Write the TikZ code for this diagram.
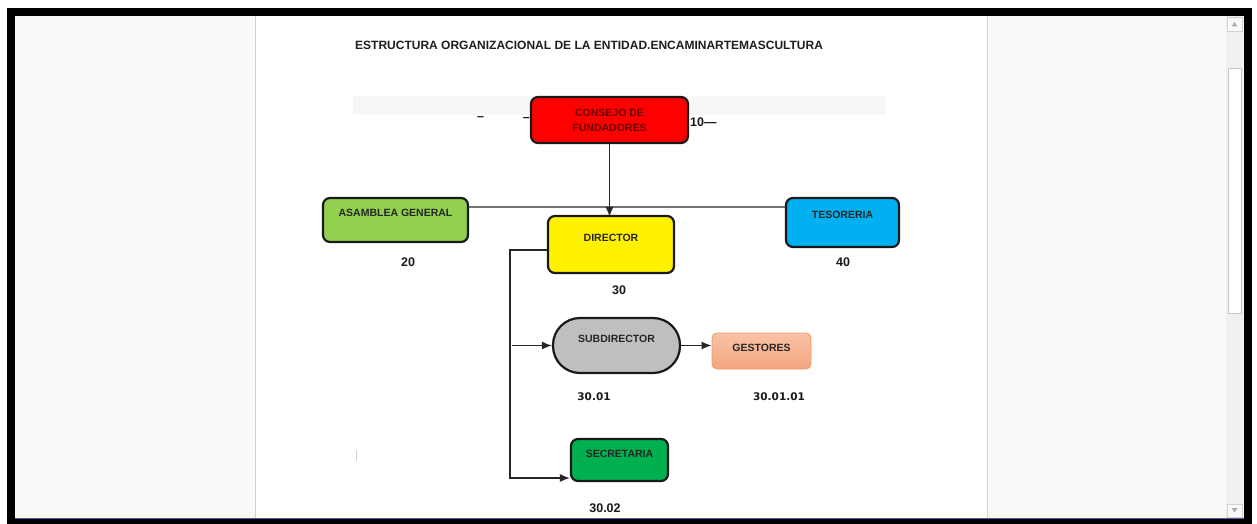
\documentclass[tikz,border=0pt]{standalone}
\usepackage{fontspec}
\setmainfont{Liberation Sans}
\newfontfamily\numfont{DejaVu Sans}
\usepackage{xcolor}
\usetikzlibrary{arrows.meta,calc,positioning}
\definecolor{consejotxt}{HTML}{6A0000}
\definecolor{asamgreen}{HTML}{92D050}
\definecolor{tesoblue}{HTML}{00B0F0}
\definecolor{subgray}{HTML}{BFBFBF}
\definecolor{secgreen}{HTML}{00B050}
\definecolor{gestop}{HTML}{F8C2A6}
\definecolor{gesbot}{HTML}{F3A67E}
\definecolor{gesline}{HTML}{EE9A6A}
\newcommand{\lbl}{\bfseries\fontsize{10.5}{12}\selectfont}

\begin{document}
\begin{tikzpicture}[
    x=1pt, y=-1pt,
    font=\lbl,
    box/.style ={rounded corners=7pt, line width=2.2pt, draw=black!90,
                 align=center, inner xsep=0pt, inner ysep=0pt, text=black!85},
    arr/.style ={-{Latex[length=10pt,width=8pt]}, line width=1.3pt, draw=black!85},
    ln/.style  ={line width=1.3pt, draw=black!55},
    num/.style ={font=\bfseries\fontsize{12.5}{14}\selectfont, text=black!90},
    cod/.style ={font=\numfont\bfseries\fontsize{10.5}{12}\selectfont, text=black!90},
  ]
  \useasboundingbox (0,0) rectangle (1257,524);
  % window and page
  \fill[black] (7,8) rectangle (1252,524);
  \fill[gray!5] (15,16) rectangle (1244,518);
  \fill[white] (255,16) rectangle (987,518);
  \draw[gray!35] (255,16) -- (255,518);
  \draw[gray!35] (987,16) -- (987,518);
  \draw[blue!35!gray, line width=1pt] (15,518.5) -- (1244,518.5);
  % scrollbar
  \fill[gray!12] (1226,16) rectangle (1243,518);
  \draw[gray!45, fill=white] (1228,68) rectangle (1241,313);
  \draw[gray!35, fill=gray!5] (1227,17) rectangle (1242,31);
  \draw[gray!35, fill=gray!5] (1227,504) rectangle (1242,517);
  \fill[gray!65] (1231.5,26.5) -- (1237.5,26.5) -- (1234.5,22) -- cycle;
  \fill[gray!65] (1231.5,508) -- (1237.5,508) -- (1234.5,512.5) -- cycle;
  % title and band
  \node[font=\bfseries\fontsize{12}{14}\selectfont, text=black!88, anchor=west, inner sep=0pt] (title) at (355,45)
       {ESTRUCTURA ORGANIZACIONAL DE LA ENTIDAD.ENCAMINARTEMASCULTURA};
  \fill[gray!6] (353,96) rectangle (886,115);
  \draw[gray!35, line width=1pt] (356,450) -- (356,461);
  % boxes
  \node[box, fill=red, text=consejotxt, minimum width=157pt, minimum height=46pt,
        font=\bfseries\fontsize{10.5}{15}\selectfont] (consejo) at (609.5,120)
       {CONSEJO DE\\FUNDADORES};
  \node[box, fill=asamgreen, minimum width=145pt, text height=18pt, text depth=26pt] (asamblea) at (395.5,220)
       {ASAMBLEA GENERAL};
  \node[box, fill=yellow, minimum width=126pt, text height=25pt, text depth=32pt] (director) at (611,244.5)
       {DIRECTOR};
  \node[box, fill=tesoblue, minimum width=113pt, text height=20pt, text depth=29pt] (tesoreria) at (842.5,222.5)
       {TESORERIA};
  \node[box, fill=subgray, rounded corners=27pt, minimum width=127pt, text height=24pt, text depth=31pt] (subdirector) at (616.5,345.5)
       {SUBDIRECTOR};
  \node[box, rounded corners=5pt, line width=0.9pt, draw=gesline, top color=gestop, bottom color=gesbot,
        minimum width=99pt, text height=18pt, text depth=18pt] (gestores) at (761.5,351)
       {GESTORES};
  \node[box, fill=secgreen, minimum width=97pt, text height=18pt, text depth=24pt] (secretaria) at (619.5,460)
       {SECRETARIA};
  % codes
  \node[num, inner sep=0pt] (dasha) at (480.5,119) {–};
  \node[num, inner sep=0pt, left=0pt of consejo] (dashb) {–};
  \node[num, inner sep=0pt, anchor=west] (c10) at (690,122) {10—};
  \node[num] (c20) at (408,262) {20};
  \node[num] (c30) at (619,290) {30};
  \node[num] (c40) at (843,262) {40};
  \node[cod] (c3001) at (594,397) {30.01};
  \node[cod] (c300101) at (779,397) {30.01.01};
  \node[num] (c3002) at (605,508) {30.02};
  % connectors
  \coordinate (spine) at (510,250);
  \draw[ln]  ([yshift=13pt]asamblea.east) -- ([yshift=13pt]asamblea.east -| tesoreria.west);
  \draw[arr] (consejo.south) -- ([yshift=-2pt]consejo.south |- director.north);
  \draw[arr] ([yshift=-5.5pt]director.west) -- (spine) |- ([yshift=-18pt]secretaria.west);
  \draw[arr] ([xshift=2pt]spine |- subdirector.west) -- (subdirector.west);
  \draw[arr] (subdirector.east) -- (subdirector.east -| gestores.west);
\end{tikzpicture}
\end{document}
